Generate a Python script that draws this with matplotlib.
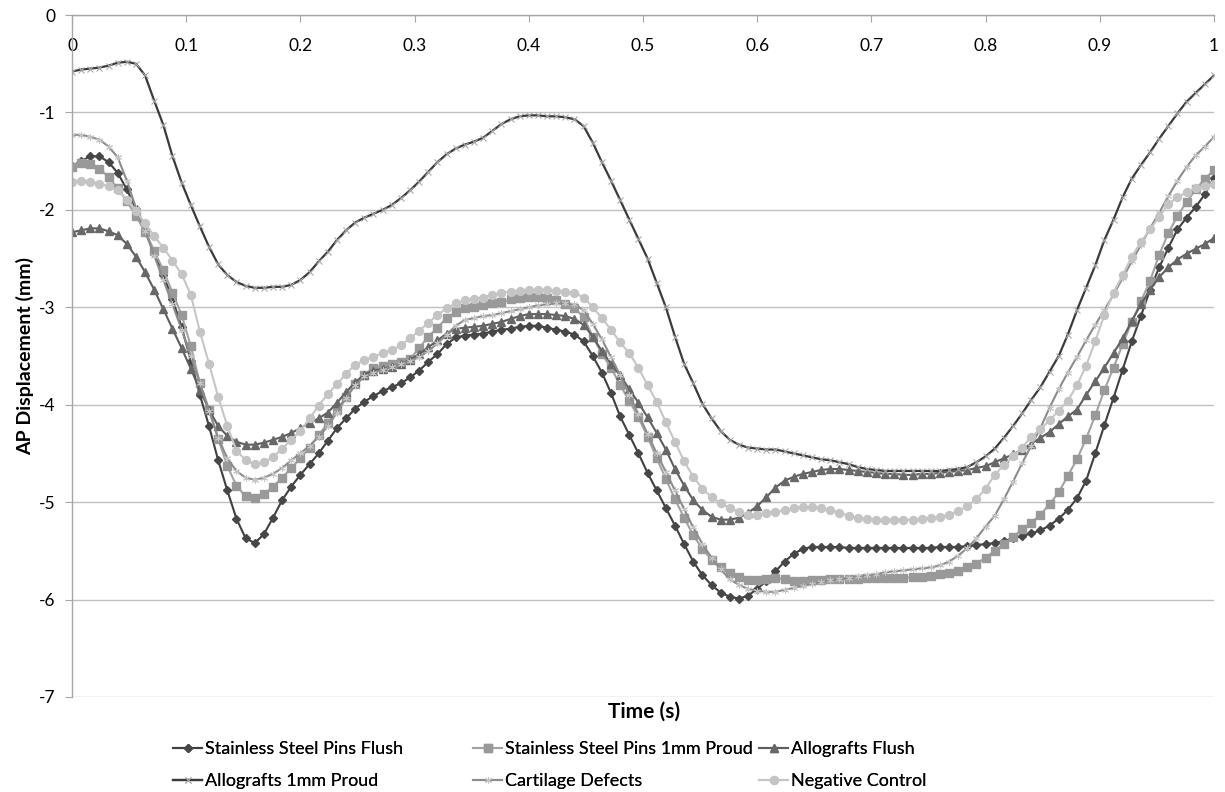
import numpy as np
import matplotlib.pyplot as plt

plt.rcParams['font.family'] = ['Lato', 'DejaVu Sans']

# sample times (s), one sample every 0.008 s over one cycle
time_s = np.linspace(0, 1, 126)

ss_flush = [
    -1.55, -1.50, -1.45, -1.45, -1.51, -1.62, -1.79, -1.99, -2.21, -2.44,
    -2.67, -2.92, -3.20, -3.55, -3.90, -4.22, -4.57, -4.88, -5.17, -5.37,
    -5.42, -5.33, -5.16, -4.98, -4.84, -4.72, -4.61, -4.50, -4.37, -4.24,
    -4.14, -4.04, -3.97, -3.91, -3.86, -3.82, -3.78, -3.72, -3.65, -3.56,
    -3.48, -3.38, -3.31, -3.29, -3.28, -3.27, -3.25, -3.23, -3.22, -3.20,
    -3.19, -3.19, -3.21, -3.23, -3.25, -3.28, -3.35, -3.50, -3.67, -3.88,
    -4.12, -4.31, -4.50, -4.70, -4.88, -5.06, -5.24, -5.43, -5.61, -5.75,
    -5.85, -5.93, -5.97, -5.99, -5.96, -5.89, -5.81, -5.71, -5.61, -5.53,
    -5.48, -5.46, -5.46, -5.46, -5.46, -5.47, -5.47, -5.47, -5.47, -5.47,
    -5.47, -5.47, -5.47, -5.47, -5.47, -5.46, -5.46, -5.46, -5.45, -5.44,
    -5.43, -5.42, -5.40, -5.37, -5.35, -5.32, -5.29, -5.24, -5.17, -5.08,
    -4.96, -4.78, -4.50, -4.21, -3.93, -3.64, -3.35, -3.09, -2.82, -2.59,
    -2.39, -2.20, -2.08, -1.97, -1.84, -1.67,
]

ss_proud = [
    -1.56, -1.52, -1.53, -1.58, -1.66, -1.78, -1.91, -2.06, -2.23, -2.42,
    -2.62, -2.85, -3.08, -3.40, -3.78, -4.05, -4.35, -4.63, -4.83, -4.94,
    -4.96, -4.92, -4.84, -4.75, -4.65, -4.55, -4.44, -4.31, -4.19, -4.05,
    -3.92, -3.79, -3.69, -3.62, -3.60, -3.58, -3.56, -3.53, -3.42, -3.30,
    -3.21, -3.11, -3.05, -3.01, -3.00, -2.98, -2.96, -2.95, -2.92, -2.90,
    -2.89, -2.89, -2.90, -2.93, -2.97, -3.01, -3.10, -3.30, -3.48, -3.62,
    -3.80, -3.96, -4.13, -4.33, -4.55, -4.76, -4.97, -5.16, -5.34, -5.48,
    -5.59, -5.67, -5.73, -5.77, -5.80, -5.80, -5.79, -5.78, -5.79, -5.81,
    -5.81, -5.80, -5.80, -5.79, -5.79, -5.79, -5.79, -5.78, -5.78, -5.78,
    -5.78, -5.78, -5.77, -5.77, -5.76, -5.74, -5.73, -5.71, -5.67, -5.63,
    -5.57, -5.50, -5.43, -5.36, -5.28, -5.21, -5.13, -5.02, -4.90, -4.73,
    -4.56, -4.35, -4.11, -3.85, -3.62, -3.38, -3.15, -2.94, -2.73, -2.46,
    -2.24, -2.06, -1.92, -1.79, -1.68, -1.59,
]

allo_flush = [
    -2.23, -2.21, -2.19, -2.19, -2.22, -2.26, -2.35, -2.48, -2.64, -2.82,
    -3.02, -3.22, -3.42, -3.63, -3.85, -4.05, -4.22, -4.32, -4.38, -4.41,
    -4.41, -4.39, -4.36, -4.33, -4.29, -4.24, -4.19, -4.14, -4.08, -3.98,
    -3.87, -3.77, -3.69, -3.65, -3.63, -3.61, -3.58, -3.54, -3.48, -3.41,
    -3.34, -3.27, -3.22, -3.21, -3.20, -3.19, -3.17, -3.15, -3.12, -3.09,
    -3.07, -3.07, -3.07, -3.08, -3.09, -3.12, -3.18, -3.30, -3.45, -3.58,
    -3.70, -3.84, -3.98, -4.13, -4.29, -4.46, -4.66, -4.83, -4.98, -5.08,
    -5.15, -5.18, -5.18, -5.16, -5.11, -5.04, -4.95, -4.85, -4.78, -4.74,
    -4.71, -4.69, -4.67, -4.66, -4.66, -4.67, -4.68, -4.69, -4.70, -4.71,
    -4.71, -4.72, -4.72, -4.71, -4.71, -4.70, -4.69, -4.68, -4.67, -4.65,
    -4.63, -4.59, -4.55, -4.51, -4.46, -4.40, -4.34, -4.28, -4.20, -4.12,
    -4.05, -3.90, -3.76, -3.62, -3.47, -3.32, -3.14, -2.97, -2.82, -2.69,
    -2.59, -2.51, -2.45, -2.40, -2.35, -2.29,
]

allo_proud = [
    -0.58, -0.56, -0.55, -0.54, -0.52, -0.49, -0.48, -0.50, -0.62, -0.88,
    -1.13, -1.45, -1.72, -1.95, -2.17, -2.38, -2.56, -2.67, -2.74, -2.78,
    -2.80, -2.80, -2.79, -2.79, -2.77, -2.72, -2.64, -2.53, -2.43, -2.31,
    -2.21, -2.13, -2.08, -2.04, -2.00, -1.95, -1.88, -1.80, -1.71, -1.61,
    -1.51, -1.43, -1.37, -1.33, -1.30, -1.26, -1.19, -1.12, -1.07, -1.04,
    -1.03, -1.03, -1.04, -1.04, -1.05, -1.07, -1.14, -1.31, -1.51, -1.70,
    -1.90, -2.10, -2.30, -2.50, -2.75, -3.00, -3.30, -3.58, -3.78, -3.99,
    -4.14, -4.27, -4.36, -4.41, -4.44, -4.45, -4.46, -4.46, -4.48, -4.50,
    -4.52, -4.54, -4.56, -4.57, -4.59, -4.61, -4.64, -4.66, -4.67, -4.68,
    -4.68, -4.68, -4.68, -4.68, -4.68, -4.68, -4.67, -4.66, -4.64, -4.59,
    -4.53, -4.45, -4.34, -4.22, -4.09, -3.95, -3.82, -3.66, -3.50, -3.28,
    -3.03, -2.80, -2.57, -2.31, -2.10, -1.87, -1.68, -1.54, -1.41, -1.27,
    -1.14, -1.01, -0.89, -0.80, -0.71, -0.62,
]

cartilage = [
    -1.23, -1.23, -1.25, -1.28, -1.35, -1.46, -1.70, -1.98, -2.22, -2.47,
    -2.72, -2.97, -3.23, -3.50, -3.78, -4.06, -4.34, -4.55, -4.68, -4.75,
    -4.77, -4.75, -4.71, -4.65, -4.57, -4.50, -4.42, -4.33, -4.22, -4.08,
    -3.93, -3.80, -3.71, -3.67, -3.64, -3.61, -3.58, -3.55, -3.51, -3.45,
    -3.37, -3.28, -3.19, -3.13, -3.11, -3.09, -3.08, -3.06, -3.04, -3.02,
    -3.00, -2.98, -2.97, -2.96, -2.96, -2.97, -3.03, -3.17, -3.33, -3.51,
    -3.70, -3.90, -4.10, -4.30, -4.50, -4.69, -4.88, -5.07, -5.26, -5.43,
    -5.57, -5.69, -5.79, -5.85, -5.89, -5.91, -5.92, -5.92, -5.90, -5.88,
    -5.86, -5.84, -5.82, -5.80, -5.79, -5.78, -5.76, -5.75, -5.74, -5.72,
    -5.71, -5.70, -5.69, -5.68, -5.67, -5.65, -5.61, -5.55, -5.47, -5.37,
    -5.25, -5.14, -4.97, -4.79, -4.60, -4.42, -4.24, -4.03, -3.84, -3.67,
    -3.51, -3.34, -3.18, -3.03, -2.87, -2.70, -2.53, -2.36, -2.19, -2.03,
    -1.86, -1.70, -1.56, -1.44, -1.35, -1.25,
]

neg_control = [
    -1.71, -1.70, -1.71, -1.73, -1.76, -1.80, -1.90, -2.01, -2.14, -2.27,
    -2.39, -2.52, -2.66, -2.87, -3.25, -3.58, -3.92, -4.22, -4.47, -4.57,
    -4.61, -4.59, -4.54, -4.45, -4.36, -4.27, -4.14, -4.01, -3.89, -3.79,
    -3.68, -3.59, -3.54, -3.51, -3.47, -3.44, -3.39, -3.32, -3.24, -3.16,
    -3.08, -3.01, -2.96, -2.93, -2.91, -2.90, -2.87, -2.85, -2.84, -2.83,
    -2.82, -2.82, -2.82, -2.83, -2.84, -2.85, -2.90, -3.00, -3.11, -3.23,
    -3.36, -3.47, -3.62, -3.80, -3.97, -4.18, -4.38, -4.58, -4.74, -4.86,
    -4.95, -5.01, -5.06, -5.10, -5.13, -5.13, -5.11, -5.10, -5.08, -5.06,
    -5.05, -5.05, -5.06, -5.08, -5.11, -5.14, -5.16, -5.17, -5.18, -5.18,
    -5.18, -5.18, -5.18, -5.17, -5.16, -5.15, -5.13, -5.09, -5.04, -4.97,
    -4.86, -4.72, -4.62, -4.53, -4.44, -4.33, -4.25, -4.16, -4.06, -3.96,
    -3.80, -3.60, -3.35, -3.08, -2.85, -2.67, -2.48, -2.33, -2.20, -2.07,
    -1.94, -1.87, -1.82, -1.78, -1.76, -1.73,
]

x_ticks = [0, 0.1, 0.2, 0.3, 0.4, 0.5, 0.6, 0.7, 0.8, 0.9, 1]
x_tick_labels = ['0', '0.1', '0.2', '0.3', '0.4', '0.5', '0.6', '0.7', '0.8', '0.9', '1']
y_ticks = [0, -1, -2, -3, -4, -5, -6, -7]

series = [
    ('Stainless Steel Pins Flush', ss_flush,
     dict(color='#404040', lw=1.5, marker='D', ms=4.4, mfc='#474747', mec='#474747')),
    ('Stainless Steel Pins 1mm Proud', ss_proud,
     dict(color='#a3a3a3', lw=1.5, marker='s', ms=5.4, mfc='#999999', mec='#999999')),
    ('Allografts Flush', allo_flush,
     dict(color='#5e5e5e', lw=1.5, marker='^', ms=5.7, mfc='#686868', mec='#686868')),
    ('Allografts 1mm Proud', allo_proud,
     dict(color='#3a3a3a', lw=1.6, marker='x', ms=4.0, mew=0.8, mec='#aaaaaa')),
    ('Cartilage Defects', cartilage,
     dict(color='#8c8c8c', lw=1.5, marker=(6, 2, 0), ms=5.0, mew=0.7, mec='#c4c4c4')),
    ('Negative Control', neg_control,
     dict(color='#c6c6c6', lw=1.5, marker='o', ms=5.7, mfc='#c4c4c4', mec='#c4c4c4')),
]

fig = plt.figure(figsize=(12.25, 7.92), dpi=100)
ax = fig.add_axes([72 / 1225, 1 - 697 / 792, (1214 - 72) / 1225, (697 - 15) / 792])

lines = {}
for name, values, style in series:
    (ln,) = ax.plot(time_s, values, label=name, **style)
    lines[name] = ln

ax.set_xlim(0, 1)
ax.set_ylim(-7, 0)

ax.set_yticks(y_ticks)
ax.set_yticklabels([str(v) for v in y_ticks])
ax.yaxis.grid(True, color='#c0c0c0', lw=1)
ax.set_axisbelow(True)

ax.xaxis.set_ticks_position('top')
ax.set_xticks(x_ticks)
ax.set_xticklabels(x_tick_labels)
ax.tick_params(axis='x', direction='in', length=5, color='#a6a6a6', pad=-28,
               labelsize=12.5, labelcolor='#000000')
ax.tick_params(axis='y', direction='out', length=5, color='#a6a6a6', pad=7,
               labelsize=12.5)

for side in ['right', 'bottom']:
    ax.spines[side].set_visible(False)
for side in ['left', 'top']:
    ax.spines[side].set_color('#a6a6a6')
    ax.spines[side].set_linewidth(1)

fig.text(644 / 1225, 1 - 712 / 792, 'Time (s)', ha='center', va='center',
         fontsize=15, fontweight='bold')
fig.text(25 / 1225, 1 - 356 / 792, 'AP Displacement (mm)', ha='center', va='center',
         rotation=90, fontsize=14, fontweight='bold')

# legend laid out as three columns, like the spreadsheet's grid
legend_columns = [
    (166, ['Stainless Steel Pins Flush', 'Allografts 1mm Proud']),
    (466, ['Stainless Steel Pins 1mm Proud', 'Cartilage Defects']),
    (752, ['Allografts Flush', 'Negative Control']),
]
for x_px, names in legend_columns:
    leg = fig.legend([lines[n] for n in names], names, loc='upper left',
                     bbox_to_anchor=(x_px / 1225, 1 - 734 / 792), ncol=1,
                     frameon=False, fontsize=13, handlelength=1.6,
                     handletextpad=0.15, labelspacing=0.9, borderaxespad=0)
    fig.add_artist(leg)

fig.savefig('out.png', dpi=100)
